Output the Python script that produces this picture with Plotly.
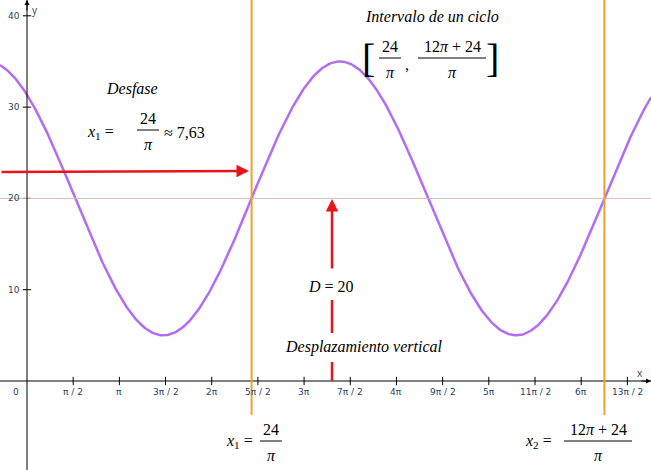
import numpy as np
import plotly.graph_objects as go

# función y = D + A sin(B (x - x1))
A, B, D = 15, np.pi / 6, 20
x1 = 24 / np.pi
x2 = (12 * np.pi + 24) / np.pi

x_ticks = [k * np.pi / 2 for k in range(1, 14)]
x_tick_labels = ["π / 2", "π", "3π / 2", "2π", "5π / 2", "3π", "7π / 2", "4π",
                 "9π / 2", "5π", "11π / 2", "6π", "13π / 2"]
y_ticks = [10, 20, 30, 40]

# mapa de píxeles a datos (ventana 651x470)
X0, XS = 27, 29.4
Y0, YS = 381, 9.13
def px(p): return (p - X0) / XS
def py(p): return (Y0 - p) / YS

xr = [px(0), px(651)]
yr = [py(470), py(0)]

xs = np.linspace(xr[0], xr[1], 600)
ys = D + A * np.sin(B * (xs - x1))

fig = go.Figure()
fig.add_trace(go.Scatter(x=xs, y=ys, mode="lines", line=dict(color="#b26cf5", width=2.5),
                         hoverinfo="skip"))
fig.add_trace(go.Scatter(x=x_ticks, y=[0] * len(x_ticks), mode="markers",
                         marker=dict(symbol="line-ns-open", size=6, color="black", line=dict(width=1)),
                         hoverinfo="skip"))
fig.add_trace(go.Scatter(x=[0] * len(y_ticks), y=y_ticks, mode="markers",
                         marker=dict(symbol="line-ew-open", size=6, color="black", line=dict(width=1)),
                         hoverinfo="skip"))

shapes = [
    dict(type="line", x0=xr[0], x1=xr[1], y0=D, y1=D, line=dict(color="#d9b8b8", width=1)),
    dict(type="line", x0=xr[0], x1=xr[1], y0=0, y1=0, line=dict(color="black", width=1)),
    dict(type="line", x0=0, x1=0, y0=yr[0], y1=yr[1], line=dict(color="black", width=1)),
]
for xv in (x1, x2):
    shapes.append(dict(type="line", x0=xv, x1=xv, y0=py(415), y1=yr[1],
                       line=dict(color="#f0a030", width=2)))
# eje vertical rojo con huecos para el texto
for a, b in [(381, 362), (333, 300)]:
    shapes.append(dict(type="line", x0=px(332), x1=px(332), y0=py(a), y1=py(b),
                       line=dict(color="#e8141a", width=2.5)))

ann = []
serif = "Liberation Serif"
for v, t in zip(x_ticks, x_tick_labels):
    ann.append(dict(x=v, y=py(392), text=t, showarrow=False, font=dict(size=9, family="DejaVu Sans")))
ann.append(dict(x=px(16), y=py(392), text="0", showarrow=False, font=dict(size=9, family="DejaVu Sans")))
for v in y_ticks:
    ann.append(dict(x=px(14), y=v, text=str(v), showarrow=False, font=dict(size=9, family="DejaVu Sans")))
ann.append(dict(x=px(640), y=py(373), text="x", showarrow=False, font=dict(size=10)))
ann.append(dict(x=px(35), y=py(10), text="y", showarrow=False, font=dict(size=10)))

def arrow(xa, ya, xb, yb, color="black", w=1, head=2):
    ann.append(dict(x=px(xb), y=py(yb), ax=px(xa), ay=py(ya), xref="x", yref="y",
                    axref="x", ayref="y", text="", showarrow=True, arrowhead=head,
                    arrowwidth=w, arrowcolor=color, arrowsize=1))

arrow(640, 381, 651, 381)
arrow(27, 12, 27, 0)
arrow(0, 172, 249, 171, "#e8141a", 2.5)
arrow(332, 270, 332, 199, "#e8141a", 2.5)

def txt(xp, yp, s, size=16):
    ann.append(dict(x=px(xp), y=py(yp), text=s, showarrow=False,
                    font=dict(size=size, family=serif, color="black")))

def frac(xc, yline, num, den, half):
    txt(xc, yline - 12, num)
    txt(xc, yline + 14, den)
    shapes.append(dict(type="line", x0=px(xc - half), x1=px(xc + half), y0=py(yline), y1=py(yline),
                       line=dict(color="black", width=1)))

txt(432, 16, "<i>Intervalo de un ciclo</i>")
txt(368, 58, "[", 40)
txt(492, 58, "]", 40)
frac(390, 58, "24", "<i>π</i>", 11)
txt(407, 64, ",")
frac(452, 58, "12<i>π</i> + 24", "<i>π</i>", 34)

txt(132, 89, "<i>Desfase</i>")
txt(100, 132, "<i>x</i><sub>1</sub> =")
frac(148, 130, "24", "<i>π</i>", 11)
txt(184, 132, "≈ 7,63")

txt(331, 286, "<i>D</i> = 20")
txt(364, 347, "<i>Desplazamiento vertical</i>")

txt(239, 441, "<i>x</i><sub>1</sub> =")
frac(271, 441, "24", "<i>π</i>", 11)
txt(538, 441, "<i>x</i><sub>2</sub> =")
frac(598, 441, "12<i>π</i> + 24", "<i>π</i>", 34)

fig.update_layout(
    width=651, height=470, margin=dict(l=0, r=0, t=0, b=0),
    plot_bgcolor="white", paper_bgcolor="white", showlegend=False,
    xaxis=dict(range=xr, visible=False),
    yaxis=dict(range=yr, visible=False),
    shapes=shapes, annotations=ann,
)
fig.write_html("out.html", config={"displayModeBar": False},
               post_script="document.body.style.margin='0';document.body.style.overflow='hidden';")
